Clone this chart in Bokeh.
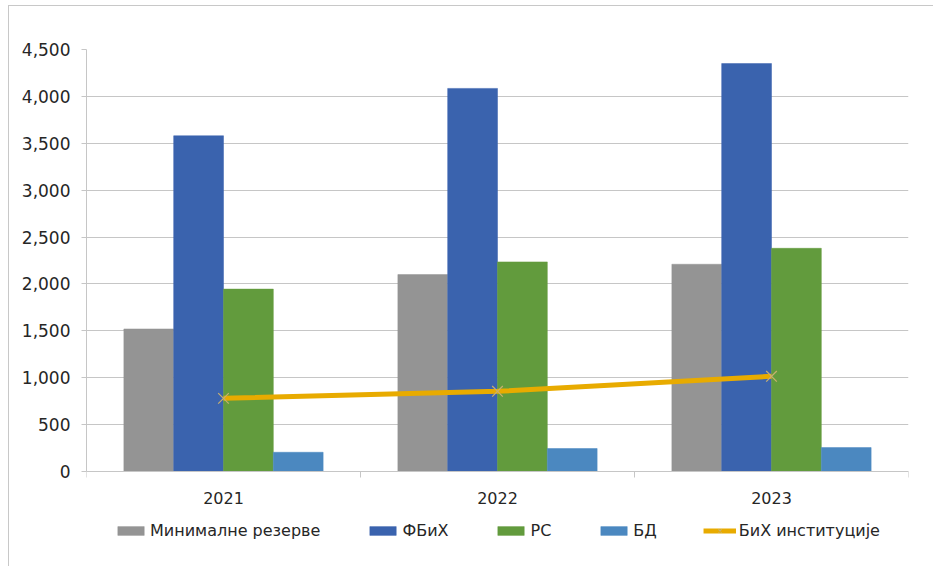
from bokeh.plotting import figure
from bokeh.models import (Range1d, FixedTicker, NumeralTickFormatter, Legend,
                          LegendItem, ColumnDataSource, LinearAxis)
from bokeh.embed import file_html
from bokeh.resources import INLINE

years = ["2021", "2022", "2023"]
min_rezerve = [1520, 2100, 2210]
fbih = [3580, 4085, 4350]
rs = [1945, 2235, 2380]
bd = [205, 245, 255]
bih_institucije = [780, 855, 1015]
bar_names = ["Минималне резерве", "ФБиХ", "РС", "БД"]
line_name = "БиХ институције"
bar_colors = ["#949494", "#3a63ae", "#629b3d", "#4b88c0"]
line_color = "#e8ab00"
y_ticks = [0, 500, 1000, 1500, 2000, 2500, 3000, 3500, 4000, 4500]

GRID = "#c6c6c6"
FONT = "DejaVu Sans"

# frame spans page y 49..566; value 0 sits at y=471 (95 px above the bottom)
Y_TOP = 4500
y_bottom = -Y_TOP * 95 / 422

p = figure(width=933, height=566, output_backend="svg", toolbar_location=None,
           x_range=Range1d(0, len(years)), y_range=Range1d(y_bottom, Y_TOP),
           x_axis_location=None,
           min_border_left=86, min_border_right=25, min_border_top=49,
           min_border_bottom=0)
p.outline_line_color = None
p.border_fill_color = None
p.background_fill_color = "white"
p.styles = {
    "background": "linear-gradient(#c8c8c8,#c8c8c8) 8px 5px / 1px 100% no-repeat, "
                  "linear-gradient(#c8c8c8,#c8c8c8) 8px 5px / 100% 1px no-repeat, white"
}

series = [min_rezerve, fbih, rs, bd]
n = len(series)
gap = 1.5
bw = 1.0 / (n + gap)
centers = [i + 0.5 for i in range(len(years))]
bar_renderers = []
for j, (vals, col) in enumerate(zip(series, bar_colors)):
    xs = [c + (j - (n - 1) / 2) * bw for c in centers]
    src = ColumnDataSource(dict(x=xs, top=vals))
    r = p.vbar(x="x", top="top", bottom=0, width=bw, source=src, fill_color=col,
               line_color=col, line_width=0.5)
    bar_renderers.append(r)

lsrc = ColumnDataSource(dict(x=centers, y=bih_institucije))
lr = p.line(x="x", y="y", source=lsrc, line_color=line_color, line_width=5)
mr = p.scatter(x="x", y="y", source=lsrc, marker="x", size=15,
               line_color="#c9b070", line_width=1.2)

# y axis
p.yaxis.ticker = FixedTicker(ticks=y_ticks)
p.yaxis.bounds = (0, Y_TOP)
p.yaxis.formatter = NumeralTickFormatter(format="0,0")
p.yaxis.axis_line_color = GRID
p.yaxis.major_tick_line_color = GRID
p.yaxis.major_tick_out = 5
p.yaxis.major_tick_in = 0
p.yaxis.minor_tick_line_color = None
p.yaxis.major_label_standoff = 11
p.yaxis.major_label_text_font = FONT
p.yaxis.major_label_text_font_size = "17px"
p.yaxis.major_label_text_color = "#262626"

# x axis fixed at value 0: labels at category centres, tick marks at boundaries
xaxis = LinearAxis(fixed_location=0,
                   ticker=FixedTicker(ticks=centers,
                                      minor_ticks=list(range(len(years) + 1))),
                   major_label_overrides={c: y for c, y in zip(centers, years)})
xaxis.axis_line_color = GRID
xaxis.major_tick_line_color = None
xaxis.minor_tick_line_color = GRID
xaxis.minor_tick_out = 6
xaxis.minor_tick_in = 0
xaxis.major_label_standoff = 14
xaxis.major_label_text_font = FONT
xaxis.major_label_text_font_size = "16px"
xaxis.major_label_text_color = "#262626"
p.add_layout(xaxis, "below")

p.xgrid.grid_line_color = None
p.ygrid.ticker = FixedTicker(ticks=y_ticks)
p.ygrid.grid_line_color = GRID

items = [LegendItem(label=nm, renderers=[r]) for nm, r in zip(bar_names, bar_renderers)]
items.append(LegendItem(label=line_name, renderers=[lr, mr]))
legend = Legend(items=items, orientation="horizontal", location="bottom_center",
                border_line_color=None, background_fill_alpha=0,
                padding=0, margin=26, spacing=46, label_standoff=3,
                glyph_width=33, glyph_height=11,
                label_text_font=FONT, label_text_font_size="16px",
                label_text_color="#262626")
p.add_layout(legend, "center")

open("out.html", "w").write(file_html(p, INLINE))
